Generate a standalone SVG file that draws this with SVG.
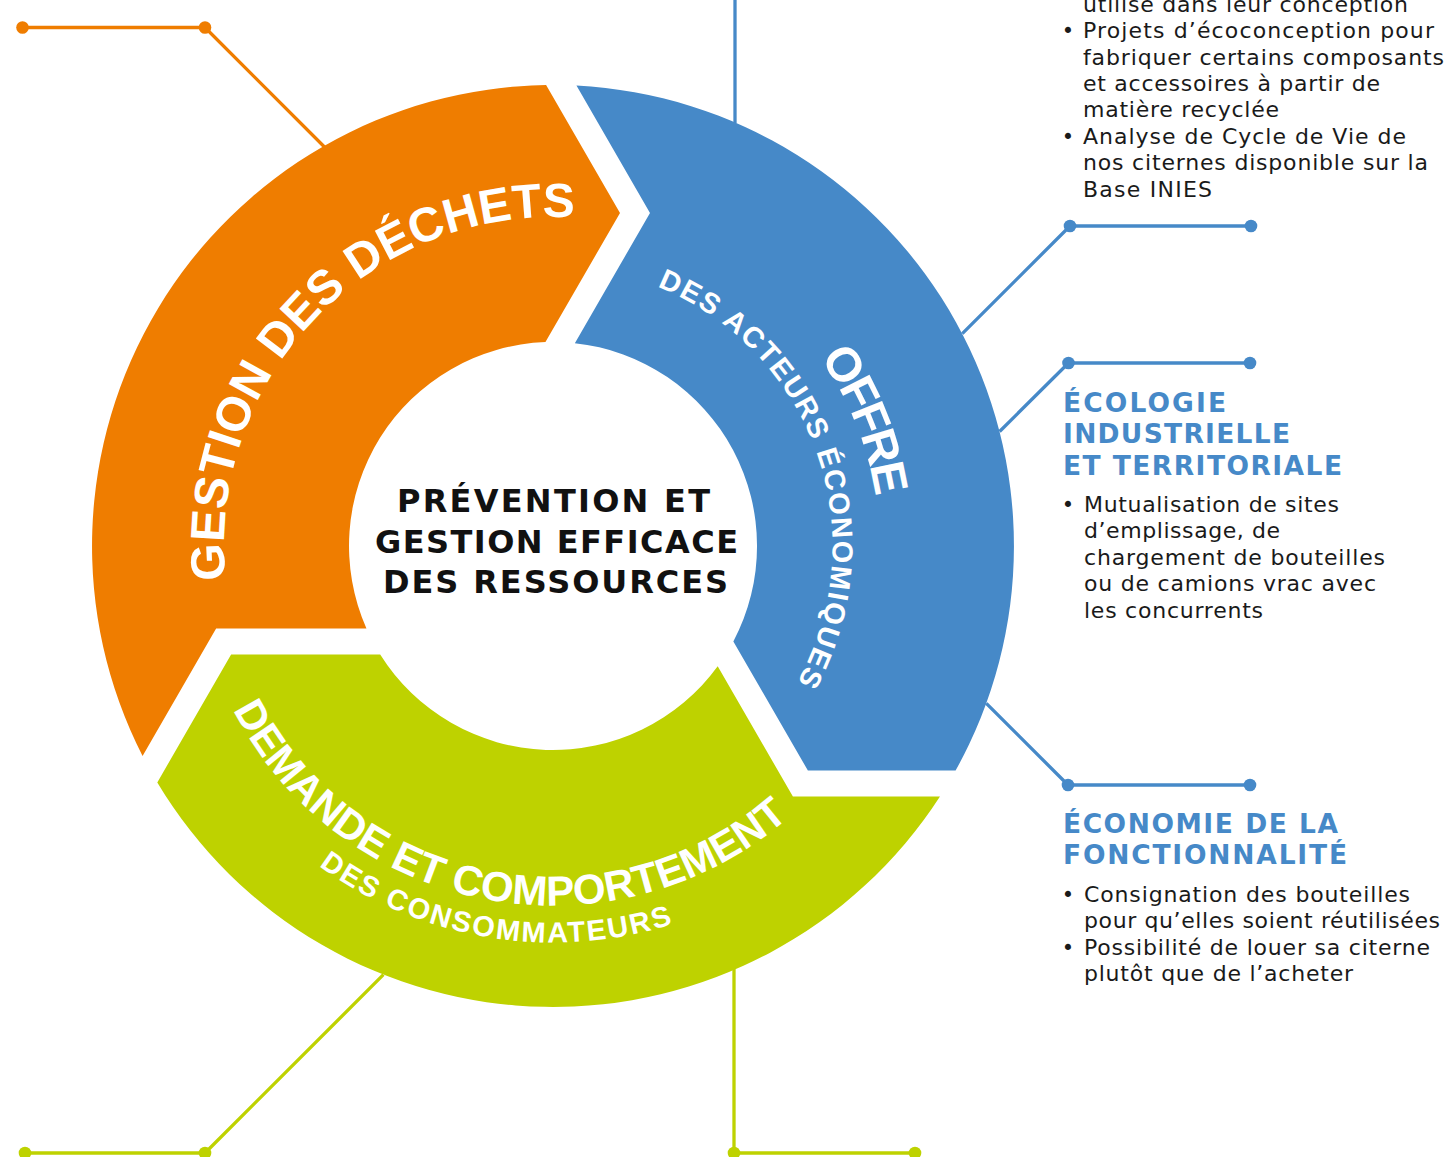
<svg xmlns="http://www.w3.org/2000/svg" xmlns:xlink="http://www.w3.org/1999/xlink" width="1446" height="1157" viewBox="0 0 1446 1157">
  <style>
    .ring-title { font-family: "Liberation Sans", Arial, sans-serif; font-weight: bold; fill: #ffffff; }
    .center-title { font-family: "DejaVu Sans", Verdana, sans-serif; font-weight: bold; font-size: 32px; fill: #111111; }
    .heading { font-family: "DejaVu Sans", Verdana, sans-serif; font-weight: bold; font-size: 26.5px; fill: #4689C8; }
    .body { font-family: "DejaVu Sans", Verdana, sans-serif; font-size: 22px; fill: #1a1a1a; }
    .bullet { font-family: "DejaVu Sans", Verdana, sans-serif; font-size: 21px; fill: #1a1a1a; text-anchor: middle; }
    .conn { fill: none; stroke-width: 3.3; stroke-linejoin: round; }
    .c-orange { stroke: #EF7D00; }
    .c-blue { stroke: #4689C8; }
    .c-green { stroke: #BED200; }
    .d-orange { fill: #EF7D00; }
    .d-blue { fill: #4689C8; }
    .d-green { fill: #BED200; }
  </style>
  <defs>
    <path id="arrowShape" d="M142.56,755.89 A461,461 0 0 1 546.1,85.1 L620,213 L545.45,342.1 A204,204 0 0 0 366.45,628.48 L216.12,628.5 Z"/>
    <path id="p-orange" d="M225.74,579.82 A329,329 0 0 1 665.52,236.84"/>
    <path id="p-offre" d="M819.8,357.8 A326.5,326.5 0 0 1 878.26,574.46"/>
    <path id="p-acteurs" d="M657.25,286.67 A279.5,279.5 0 0 1 767.1,725.66"/>
    <path id="p-demande" d="M232.98,709.77 A359.5,359.5 0 0 0 828.39,777.08"/>
    <path id="p-consom" d="M318.82,865.96 A396.5,396.5 0 0 0 751.25,889.38"/>
  </defs>

  <rect x="0" y="0" width="1446" height="1157" fill="#ffffff"/>

  <g id="connectors">
    <polyline class="conn c-orange" points="22.5,27.5 205,27.5 325,147.5"/>
    <circle class="d-orange" cx="22.5" cy="27.5" r="6.3"/>
    <circle class="d-orange" cx="205" cy="27.5" r="6.3"/>

    <line class="conn c-blue" x1="735" y1="0" x2="735" y2="123"/>
    <polyline class="conn c-blue" points="962.3,333.7 1070,226 1251,226"/>
    <circle class="d-blue" cx="1070" cy="226" r="6.3"/>
    <circle class="d-blue" cx="1251" cy="226" r="6.3"/>
    <polyline class="conn c-blue" points="999.6,431.5 1068.5,363 1250,363"/>
    <circle class="d-blue" cx="1068.5" cy="363" r="6.3"/>
    <circle class="d-blue" cx="1250" cy="363" r="6.3"/>
    <polyline class="conn c-blue" points="986.3,703.3 1068,785 1250,785"/>
    <circle class="d-blue" cx="1068" cy="785" r="6.3"/>
    <circle class="d-blue" cx="1250" cy="785" r="6.3"/>

    <polyline class="conn c-green" points="383.4,974.7 205,1153 25,1153"/>
    <circle class="d-green" cx="205" cy="1153" r="6.3"/>
    <circle class="d-green" cx="25" cy="1153" r="6.3"/>
    <polyline class="conn c-green" points="734,969 734,1153 915,1153"/>
    <circle class="d-green" cx="734" cy="1153" r="6.3"/>
    <circle class="d-green" cx="915" cy="1153" r="6.3"/>
  </g>

  <g id="node-gestion-dechets">
    <use href="#arrowShape" xlink:href="#arrowShape" fill="#EF7D00"/>
    <text class="ring-title" font-size="48"><textPath href="#p-orange" xlink:href="#p-orange" textLength="572" lengthAdjust="spacing">GESTION DES DÉCHETS</textPath></text>
  </g>

  <g id="node-offre">
    <use href="#arrowShape" xlink:href="#arrowShape" fill="#4689C8" transform="rotate(120 553 546)"/>
    <text class="ring-title" font-size="48"><textPath href="#p-offre" xlink:href="#p-offre" textLength="151" lengthAdjust="spacing">OFFRE</textPath></text>
    <text class="ring-title" font-size="29"><textPath href="#p-acteurs" xlink:href="#p-acteurs" textLength="474" lengthAdjust="spacing">DES ACTEURS ÉCONOMIQUES</textPath></text>
  </g>

  <g id="node-demande">
    <use href="#arrowShape" xlink:href="#arrowShape" fill="#BED200" transform="rotate(240 553 546)"/>
    <text class="ring-title" font-size="42"><textPath href="#p-demande" xlink:href="#p-demande" textLength="652" lengthAdjust="spacing">DEMANDE ET COMPORTEMENT</textPath></text>
    <text class="ring-title" font-size="29"><textPath href="#p-consom" xlink:href="#p-consom" textLength="372" lengthAdjust="spacing">DES CONSOMMATEURS</textPath></text>
  </g>

  <g id="node-center">
    <text class="center-title" x="397" y="511.7" textLength="313" lengthAdjust="spacing">PRÉVENTION ET</text>
    <text class="center-title" x="375" y="553.3" textLength="363" lengthAdjust="spacing">GESTION EFFICACE</text>
    <text class="center-title" x="383" y="593.3" textLength="345" lengthAdjust="spacing">DES RESSOURCES</text>
  </g>

  <g id="node-ecoconception">
    <text class="body" x="1083" y="11.6" textLength="325" lengthAdjust="spacing">utilisé dans leur conception</text>
    <text class="bullet" x="1068" y="38.2">•</text>
    <text class="body" x="1083" y="38.2" textLength="351" lengthAdjust="spacing">Projets d’écoconception pour</text>
    <text class="body" x="1083" y="64.6" textLength="361" lengthAdjust="spacing">fabriquer certains composants</text>
    <text class="body" x="1083" y="91" textLength="297" lengthAdjust="spacing">et accessoires à partir de</text>
    <text class="body" x="1083" y="117.4" textLength="196" lengthAdjust="spacing">matière recyclée</text>
    <text class="bullet" x="1068" y="143.8">•</text>
    <text class="body" x="1083" y="143.8" textLength="323" lengthAdjust="spacing">Analyse de Cycle de Vie de</text>
    <text class="body" x="1083" y="170.2" textLength="345" lengthAdjust="spacing">nos citernes disponible sur la</text>
    <text class="body" x="1083" y="196.6" textLength="129" lengthAdjust="spacing">Base INIES</text>
  </g>

  <g id="node-ecologie">
    <text class="heading" x="1063" y="411.7" textLength="163" lengthAdjust="spacing">ÉCOLOGIE</text>
    <text class="heading" x="1063" y="443.3" textLength="227" lengthAdjust="spacing">INDUSTRIELLE</text>
    <text class="heading" x="1063" y="475" textLength="279" lengthAdjust="spacing">ET TERRITORIALE</text>
    <text class="bullet" x="1068" y="511.7">•</text>
    <text class="body" x="1084" y="511.7" textLength="255" lengthAdjust="spacing">Mutualisation de sites</text>
    <text class="body" x="1084" y="538.3" textLength="196" lengthAdjust="spacing">d’emplissage, de</text>
    <text class="body" x="1084" y="565" textLength="301" lengthAdjust="spacing">chargement de bouteilles</text>
    <text class="body" x="1084" y="591" textLength="292" lengthAdjust="spacing">ou de camions vrac avec</text>
    <text class="body" x="1084" y="617.7" textLength="179" lengthAdjust="spacing">les concurrents</text>
  </g>

  <g id="node-fonctionnalite">
    <text class="heading" x="1063" y="833.3" textLength="275" lengthAdjust="spacing">ÉCONOMIE DE LA</text>
    <text class="heading" x="1063" y="864.3" textLength="284" lengthAdjust="spacing">FONCTIONNALITÉ</text>
    <text class="bullet" x="1068" y="901.7">•</text>
    <text class="body" x="1084" y="901.7" textLength="326" lengthAdjust="spacing">Consignation des bouteilles</text>
    <text class="body" x="1084" y="928.3" textLength="356" lengthAdjust="spacing">pour qu’elles soient réutilisées</text>
    <text class="bullet" x="1068" y="955">•</text>
    <text class="body" x="1084" y="955" textLength="346" lengthAdjust="spacing">Possibilité de louer sa citerne</text>
    <text class="body" x="1084" y="980.7" textLength="269" lengthAdjust="spacing">plutôt que de l’acheter</text>
  </g>
</svg>
